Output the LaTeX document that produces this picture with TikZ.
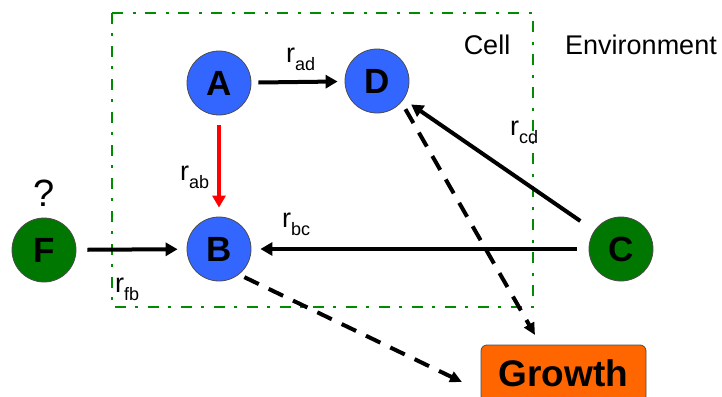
\documentclass[tikz,border=0pt]{standalone}
\usepackage{fontspec}
\setmainfont{Liberation Sans}
\usetikzlibrary{arrows.meta}
\definecolor{cblue}{RGB}{51,102,255}
\definecolor{cgreen}{RGB}{0,119,0}
\definecolor{boxgreen}{RGB}{0,140,0}
\definecolor{corange}{RGB}{255,102,0}
\newcommand{\rate}[1]{\fontsize{27}{27}\selectfont r\raisebox{-8pt}{\fontsize{18}{18}\selectfont #1}}
\tikzset{
  pix/.style={x=1pt,y=-1pt},
  species/.style={circle,draw=black!70,line width=0.8pt,minimum size=64pt,inner sep=0pt,
    font=\fontsize{35}{35}\selectfont\bfseries},
  flux/.style={line width=4pt,-{Triangle[length=12pt,width=13pt]}},
  effect/.style={line width=4pt,dash pattern=on 16pt off 11pt,-{Triangle[length=12pt,width=11pt]}},
  ratelabel/.style={anchor=base west,inner sep=0pt},
  plain/.style={font=\fontsize{27}{27}\selectfont,inner sep=0pt},
}

\begin{document}
\begin{tikzpicture}[pix]
    \useasboundingbox (0,0) rectangle (722,396);
    % cell boundary
    \draw[boxgreen,line width=2.7pt,dash pattern=on 11pt off 9pt on 3pt off 10pt] (112,13) rectangle (533,307);
    \node[plain] (cell) at (487,45) {Cell};
    \node[plain] (env) at (641,45) {Environment};
    % species
    \node[species,fill=cblue] (A) at (219,83) {A};
    \node[species,fill=cblue] (D) at (377,81) {D};
    \node[species,fill=cblue] (B) at (219,249) {B};
    \node[species,fill=cgreen] (F) at (44,250) {F};
    \node[species,fill=cgreen] (C) at (621,249) {C};
    \node[inner sep=0pt,font=\fontsize{38}{38}\selectfont] (q) at (44,193) {?};
    \node[draw=black!70,line width=0.8pt,fill=corange,rounded corners=6pt,minimum width=165pt,
      minimum height=57pt,font=\fontsize{37}{37}\selectfont\bfseries] (growth) at (563.5,373.5) {Growth};
    \coordinate (gin1) at (462,382);
    \coordinate (gin2) at (535,335);
    % fluxes
    \draw[flux,shorten <=7pt,shorten >=7pt] (A) -- (D);
    \draw[flux,red,shorten <=10pt,shorten >=9pt] (A) -- (B);
    \draw[flux,shorten <=11pt,shorten >=9pt] (F) -- (B);
    \draw[flux,shorten <=12pt,shorten >=9pt] (C) -- (B);
    \draw[flux,shorten <=17pt,shorten >=9pt] (C) -- (D);
    \draw[effect,shorten <=8pt] (D.-41) -- (gin2);
    \draw[effect,shorten <=6pt] (B.-52) -- (gin1);
    % rates
    \node[ratelabel] (rad) at (286,63) {\rate{ad}};
    \node[ratelabel] (rab) at (180,180) {\rate{ab}};
    \node[ratelabel] (rfb) at (115,292) {\rate{fb}};
    \node[ratelabel] (rbc) at (282,227) {\rate{bc}};
    \node[ratelabel] (rcd) at (510,135) {\rate{cd}};
\end{tikzpicture}
\end{document}
